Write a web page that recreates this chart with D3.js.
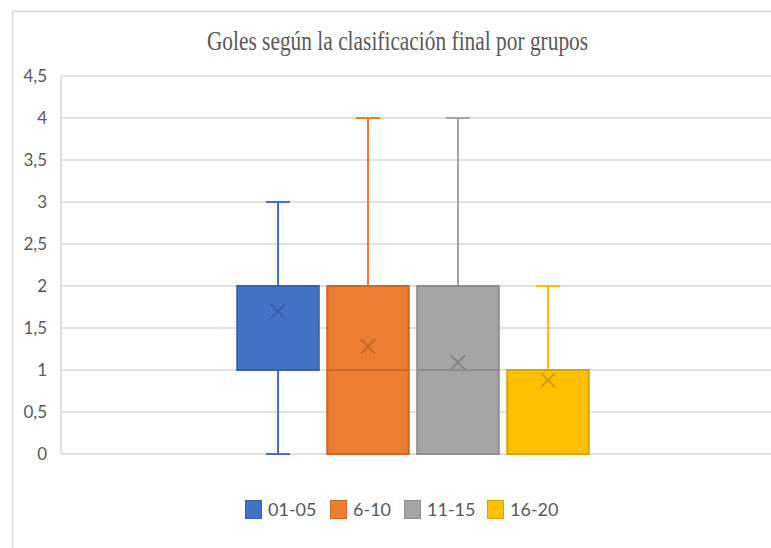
<!DOCTYPE html>
<html>
<head>
<meta charset="utf-8">
<script src="https://cdn.jsdelivr.net/npm/d3@7"></script>
<style>
  html, body { margin: 0; padding: 0; background: #fff; }
  svg { display: block; }
</style>
</head>
<body>
<svg id="chart" width="771" height="548"></svg>
<script>
// Goals by final-standing group (box-and-whisker summary per group)
const groups   = ["01-05", "6-10", "11-15", "16-20"];
const colors   = ["#4472C4", "#ED7D31", "#A5A5A5", "#FFC000"];
const minVals  = [0, 0, 0, 0];
const q1Vals   = [1, 0, 0, 0];
const medVals  = [2, 1, 1, 1];
const q3Vals   = [2, 2, 2, 1];
const maxVals  = [3, 4, 4, 2];
const meanVals = [1.7, 1.28, 1.09, 0.88];
const yTicks   = [0, 0.5, 1, 1.5, 2, 2.5, 3, 3.5, 4, 4.5];
const titleText = "Goles según la clasificación final por grupos";

const svg = d3.select("#chart");
const W = 771, H = 548;
const plot = { left: 61, right: 771, top: 76, bottom: 454 };
const grid = "#d9d9d9";
const textCol = "#595959";
const sans = "Lato, 'Open Sans', sans-serif";

// chart frame (left and top edges)
svg.append("path")
  .attr("d", `M12.5,${H} L12.5,11.5 L${W},11.5`)
  .attr("fill", "none").attr("stroke", grid).attr("stroke-width", 1.5);

// title, set in a narrow serif
svg.append("text")
  .attr("transform", "translate(397.5,50) scale(0.764,1)")
  .attr("text-anchor", "middle")
  .attr("font-family", "'Liberation Serif', 'Times New Roman', serif")
  .attr("font-size", 28)
  .attr("fill", textCol)
  .text(titleText);

const y = d3.scaleLinear().domain([0, 4.5]).range([plot.bottom, plot.top]);
const x = d3.scaleBand().domain(groups).range([233, 593]).paddingInner(0.094).paddingOuter(0.047);

// gridlines
svg.append("g").selectAll("line").data(yTicks).join("line")
  .attr("x1", plot.left).attr("x2", plot.right)
  .attr("y1", d => y(d)).attr("y2", d => y(d))
  .attr("stroke", grid).attr("stroke-width", 1.5);

// vertical axis line
svg.append("line")
  .attr("x1", plot.left).attr("x2", plot.left)
  .attr("y1", plot.top).attr("y2", plot.bottom)
  .attr("stroke", grid).attr("stroke-width", 1.5);

// y tick labels
const yAxis = d3.axisLeft(y).tickValues(yTicks).tickSize(0).tickPadding(14)
  .tickFormat(d => String(d).replace(".", ","));
const gy = svg.append("g").attr("transform", `translate(${plot.left},0)`).call(yAxis);
gy.select(".domain").remove();
gy.selectAll("text").attr("font-family", sans).attr("font-size", 17).attr("fill", textCol);

// boxes
const boxes = svg.append("g");
groups.forEach((g, i) => {
  const c = colors[i];
  const dark = d3.color(c).darker(0.45).formatHex();
  const x0 = x(g), bw = x.bandwidth(), cx = x0 + bw / 2;
  const capW = 24;
  const gg = boxes.append("g");

  // whiskers
  if (maxVals[i] > q3Vals[i]) {
    gg.append("line").attr("x1", cx).attr("x2", cx)
      .attr("y1", y(q3Vals[i])).attr("y2", y(maxVals[i]))
      .attr("stroke", c).attr("stroke-width", 2);
    gg.append("line").attr("x1", cx - capW / 2).attr("x2", cx + capW / 2)
      .attr("y1", y(maxVals[i])).attr("y2", y(maxVals[i]))
      .attr("stroke", c).attr("stroke-width", 2);
  }
  if (minVals[i] < q1Vals[i]) {
    gg.append("line").attr("x1", cx).attr("x2", cx)
      .attr("y1", y(q1Vals[i])).attr("y2", y(minVals[i]))
      .attr("stroke", c).attr("stroke-width", 2);
    gg.append("line").attr("x1", cx - capW / 2).attr("x2", cx + capW / 2)
      .attr("y1", y(minVals[i])).attr("y2", y(minVals[i]))
      .attr("stroke", c).attr("stroke-width", 2);
  }

  // box
  gg.append("rect")
    .attr("x", x0).attr("width", bw)
    .attr("y", y(q3Vals[i])).attr("height", y(q1Vals[i]) - y(q3Vals[i]))
    .attr("fill", c).attr("stroke", dark).attr("stroke-width", 2);

  // median
  gg.append("line").attr("x1", x0).attr("x2", x0 + bw)
    .attr("y1", y(medVals[i])).attr("y2", y(medVals[i]))
    .attr("stroke", dark).attr("stroke-width", 2);

  // mean marker
  const s = 7, my = y(meanVals[i]);
  gg.append("path")
    .attr("d", `M${cx - s},${my - s}L${cx + s},${my + s}M${cx - s},${my + s}L${cx + s},${my - s}`)
    .attr("stroke", d3.color(c).darker(0.7).formatHex()).attr("stroke-width", 1.6).attr("fill", "none");
});

// legend
const legendX = [245, 330, 404, 487];
const leg = svg.append("g");
groups.forEach((g, i) => {
  const c = colors[i];
  leg.append("rect")
    .attr("x", legendX[i] + 0.5).attr("y", 500.5).attr("width", 16).attr("height", 18)
    .attr("fill", c).attr("stroke", d3.color(c).darker(0.45).formatHex()).attr("stroke-width", 1);
  leg.append("text")
    .attr("x", legendX[i] + 23).attr("y", 516)
    .attr("font-family", sans).attr("font-size", 18).attr("fill", textCol)
    .text(g);
});
</script>
</body>
</html>
